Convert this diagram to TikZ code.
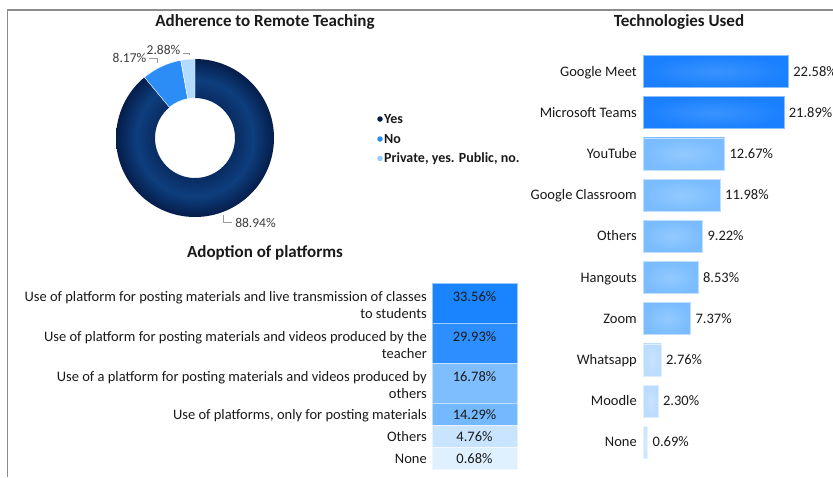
\documentclass[tikz,border=0pt]{standalone}
\usepackage{fontspec}
\setmainfont{Carlito}
\definecolor{framecol}{HTML}{8C8C8C}
\definecolor{txt}{HTML}{1A1A1A}
\definecolor{leadcol}{HTML}{9A9A9A}
\definecolor{yesdark}{HTML}{051D4A}
\definecolor{yesin}{HTML}{092C62}
\definecolor{yesmid}{HTML}{0E3E7E}
\definecolor{nocol}{HTML}{2C8DF6}
\definecolor{privcol}{HTML}{B3DAFF}
\definecolor{bA}{HTML}{1A80FF}
\definecolor{bAin}{HTML}{3A93FF}
\definecolor{bB}{HTML}{7ABCFF}
\definecolor{bBin}{HTML}{92CAFF}
\definecolor{bC}{HTML}{BADCFF}
\definecolor{bCin}{HTML}{C8E3FF}
\definecolor{bD}{HTML}{C8E4FF}
\definecolor{bDin}{HTML}{D6ECFF}
\definecolor{tA}{HTML}{1A84FF}
\definecolor{tB}{HTML}{2D8FFF}
\definecolor{tC}{HTML}{7EBEFF}
\definecolor{tD}{HTML}{74B8FD}
\definecolor{tE}{HTML}{C8E4FF}
\definecolor{tF}{HTML}{DFF0FF}
\pgfdeclareradialshading{ringshade}{\pgfpoint{0bp}{0bp}}{color(0bp)=(yesin); color(12.7bp)=(yesin); color(18.5bp)=(yesmid); color(25bp)=(yesdark); color(50bp)=(yesdark)}
\tikzset{
  charttitle/.style={font=\fontsize{17}{19}\selectfont\bfseries, text=txt, inner sep=0pt},
  lab/.style={font=\fontsize{14.5}{17}\selectfont, text=txt, inner sep=0pt, text height=9pt, text depth=0pt},
  pielab/.style={font=\fontsize{13.5}{15}\selectfont, text=txt!85!white, inner sep=0pt, text height=8.5pt, text depth=0pt},
  leg/.style={font=\fontsize{14}{16}\selectfont\bfseries, text=txt, inner sep=0pt, text height=8.5pt, text depth=0pt, anchor=west},
  ldot/.style={circle, inner sep=0pt, minimum size=5.5pt, fill=#1},
  leader/.style={draw=leadcol, line width=0.7pt},
  hbar/.style={inner color=#1in, outer color=#1, draw=#1in!60!white, line width=0.6pt, minimum height=32pt, inner sep=0pt, anchor=west},
  cell/.style={fill=#1, draw=white!55!#1, line width=0.5pt, minimum width=85pt, inner sep=0pt, anchor=north west},
}
\begin{document}
\begin{tikzpicture}[x=1pt,y=-1pt]
\useasboundingbox (0,0) rectangle (833,477);
\fill[white] (0,0) rectangle (833,477);
\draw[framecol, line width=1.6pt] (7.5,477) -- (7.5,10) -- (833,10);

% ---------- Donut ----------
\node[charttitle] (t1) at (265,22) {Adherence to Remote Teaching};
\begin{scope}[shift={(195,138)}]
  \begin{scope}
    \clip (90:79pt) arc[start angle=90, end angle=-230.2, radius=79pt] -- (-230.2:40pt) arc[start angle=-230.2, end angle=90, radius=40pt] -- cycle;
    \shade[shading=ringshade] (0,0) circle[radius=79pt];
  \end{scope}
  \fill[nocol, draw=white, line width=0.4pt] (129.8:79pt) arc[start angle=129.8, end angle=100.4, radius=79pt] -- (100.4:40pt) arc[start angle=100.4, end angle=129.8, radius=40pt] -- cycle;
  \fill[privcol, draw=white, line width=0.4pt] (100.4:79pt) arc[start angle=100.4, end angle=90, radius=79pt] -- (90:40pt) arc[start angle=90, end angle=100.4, radius=40pt] -- cycle;
\end{scope}
\node[pielab] (l817) at (129.5,58) {8.17\%};
\node[pielab] (l288) at (163.5,50) {2.88\%};
\node[pielab] (l8894) at (255.5,223) {88.94\%};
\coordinate (k1) at (157,63);
\coordinate (k2) at (189,55);
\coordinate (k3) at (223,215);
\draw[leader] ([xshift=3pt]l817.east) -| (k1);
\draw[leader] ([xshift=3pt,yshift=-3pt]l288.east) -| (k2);
\draw[leader] ([xshift=-3pt,yshift=1pt]l8894.west) -| (k3);

% legend
\node[ldot=yesdark] (dy) at (380,119) {};
\node[leg] (ly) at (384,119) {Yes};
\node[ldot=nocol] (dn) at (380,139) {};
\node[leg] (ln) at (384,139) {No};
\node[ldot=privcol!80!nocol] (dp) at (380,158.5) {};
\node[leg] (lp) at (384,158.5) {Private, yes. Public, no.};

% ---------- Adoption table ----------
\node[charttitle] (t2) at (265,253) {Adoption of platforms};
\node[cell=tA, minimum height=40pt] (c1) at (432,283) {};
\node[cell=tB, minimum height=40pt] (c2) at (432,323) {};
\node[cell=tC, minimum height=40pt] (c3) at (432,363) {};
\node[cell=tD, minimum height=22pt] (c4) at (432,403) {};
\node[cell=tE, minimum height=22pt] (c5) at (432,425) {};
\node[cell=tF, minimum height=22pt] (c6) at (432,447) {};
\node[lab, anchor=east] (r1a) at (427,296.5) {Use of platform for posting materials and live transmission of classes};
\node[lab, anchor=east] (r1b) at (427,313.5) {to students};
\node[lab, anchor=east] (r2a) at (427,336.5) {Use of platform for posting materials and videos produced by the};
\node[lab, anchor=east] (r2b) at (427,353.5) {teacher};
\node[lab, anchor=east] (r3a) at (427,376.5) {Use of a platform for posting materials and videos produced by};
\node[lab, anchor=east] (r3b) at (427,393.5) {others};
\node[lab, anchor=east] (r4) at (427,415) {Use of platforms, only for posting materials};
\node[lab, anchor=east] (r5) at (427,437) {Others};
\node[lab, anchor=east] (r6) at (427,459) {None};
\node[lab] (v1) at (474.5,296.5) {33.56\%};
\node[lab] (v2) at (474.5,336.5) {29.93\%};
\node[lab] (v3) at (474.5,376.5) {16.78\%};
\node[lab] (v4) at (474.5,415) {14.29\%};
\node[lab] (v5) at (474.5,437) {4.76\%};
\node[lab] (v6) at (474.5,459) {0.68\%};

% ---------- Technologies ----------
\node[charttitle] (t3) at (679,22) {Technologies Used};
\foreach \i/\nm/\v/\w/\c in {
  0/Google Meet/22.58/145.0/bA,
  1/Microsoft Teams/21.89/140.5/bA,
  2/YouTube/12.67/81.3/bB,
  3/Google Classroom/11.98/76.9/bB,
  4/Others/9.22/59.2/bB,
  5/Hangouts/8.53/54.8/bB,
  6/Zoom/7.37/47.3/bB,
  7/Whatsapp/2.76/17.7/bC,
  8/Moodle/2.30/14.8/bC,
  9/None/0.69/4.4/bD} {
  \node[hbar=\c, minimum width=\w pt] (b\i) at (643,{71.5+41.2*\i}) {};
  \node[lab, anchor=east] (n\i) at ([xshift=-6pt]b\i.west) {\nm};
  \node[lab, anchor=west] (p\i) at ([xshift=4.5pt]b\i.east) {\v\%};
}
\end{tikzpicture}
\end{document}
